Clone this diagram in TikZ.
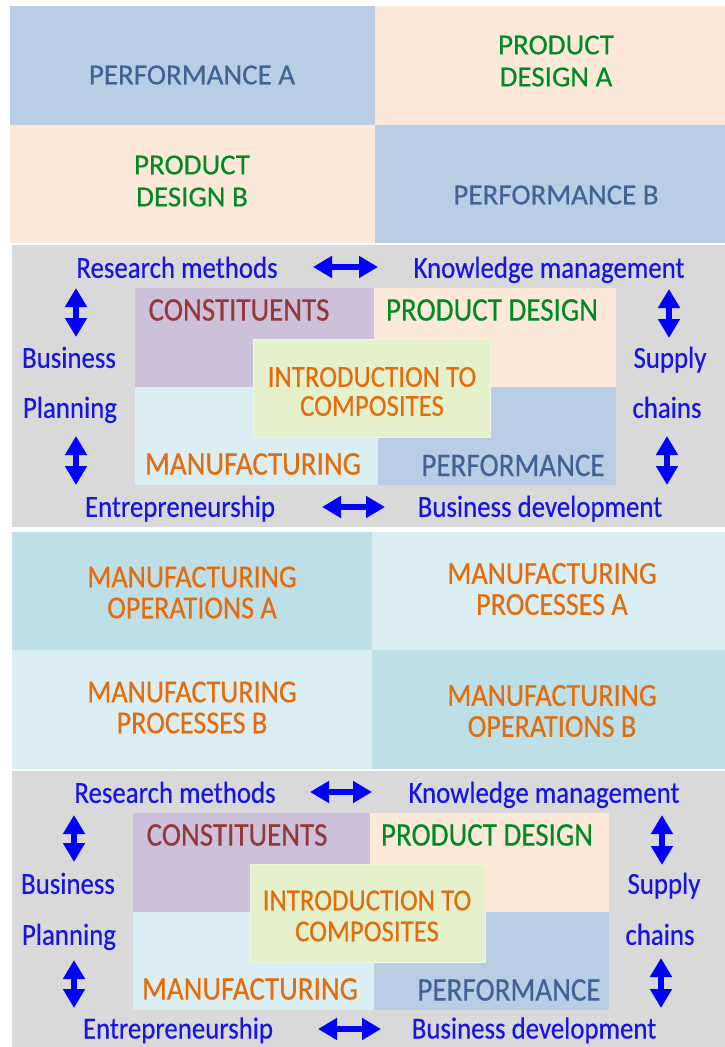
\documentclass[tikz,border=0pt]{standalone}
\usepackage{fontspec}
\setmainfont[FakeBold=0.4]{Carlito}
\newfontfamily\condfont[FakeStretch=0.88,FakeBold=0.4]{Carlito}
\usetikzlibrary{arrows.meta}

% palette
\definecolor{cellblue}{HTML}{B9CDE5}
\definecolor{cellpeach}{HTML}{FDE9D9}
\definecolor{cellpurple}{HTML}{CCC0DA}
\definecolor{celllcyan}{HTML}{DBEEF4}
\definecolor{celldcyan}{HTML}{BDDFE8}
\definecolor{panelgray}{HTML}{D9D9D9}
\definecolor{introfill}{HTML}{E4F1CC}
\definecolor{introedge}{HTML}{EEF6DD}
\definecolor{txorange}{HTML}{E46C0A}
\definecolor{txgreen}{HTML}{008A23}
\definecolor{txred}{HTML}{953735}
\definecolor{txslate}{HTML}{416394}
\definecolor{txblue}{HTML}{1515E6}
\definecolor{arrowblue}{HTML}{0000FF}

\tikzset{
  bigcap/.style={font=\fontsize{29}{32}\selectfont, inner sep=0pt, align=center},
  midcap/.style={font=\condfont\fontsize{32}{31}\selectfont, inner sep=0pt, align=center, text=txorange},
  quadcap/.style={font=\condfont\fontsize{33}{33}\selectfont, inner sep=0pt, anchor=base},
  introtext/.style={font=\condfont\fontsize{30.5}{30}\selectfont, inner sep=0pt, align=center, text=txorange},
  linklabel/.style={font=\condfont\fontsize{30.5}{30}\selectfont, inner sep=0pt, anchor=base, text=txblue},
  dblarrow/.style={draw=arrowblue, line width=6.5pt,
    {Triangle[length=19pt,width=21pt]}-{Triangle[length=19pt,width=21pt]}},
  introbox/.style={fill=introfill, draw=introedge, line width=1pt}
}

\begin{document}
\begin{tikzpicture}[x=1pt,y=-1pt]
\useasboundingbox (0,0) rectangle (725,1047);
\fill[white] (0,0) rectangle (725,1047);

% ---------- block 1: performance / product design ----------
\fill[cellblue]  (10,6)   rectangle (375,125);
\fill[cellpeach] (375,6)  rectangle (725,125);
\fill[cellpeach] (10,125) rectangle (375,243);
\fill[cellblue]  (375,125) rectangle (725,243);
\node[bigcap, text=txslate, anchor=base] (perfA) at (192,84.3) {PERFORMANCE A};
\node[bigcap, text=txgreen] (pdA) at (556,61) {PRODUCT\\DESIGN A};
\node[bigcap, text=txgreen] (pdB) at (192,181) {PRODUCT\\DESIGN B};
\node[bigcap, text=txslate, anchor=base] (perfB) at (556,204.3) {PERFORMANCE B};

% ---------- block 2: introduction to composites ----------
\fill[panelgray] (12,245) rectangle (725,527);
\fill[cellpurple] (135,288)   rectangle (373.5,387);
\fill[cellpeach]  (373.5,288) rectangle (616,387);
\fill[celllcyan]  (135,387)   rectangle (378,485);
\fill[cellblue]   (378,387)   rectangle (616,485);
\node[introbox, minimum width=237pt, minimum height=98pt, inner sep=0pt] (introbox1) at (371.5,388) {};
\node[introtext] (intro1) at (372,391.5) {INTRODUCTION TO\\[-1pt]COMPOSITES};
\node[quadcap, text=txred]   (con1)  at (239,320.6) {CONSTITUENTS};
\node[quadcap, text=txgreen] (pd1)   at (492,320.6) {PRODUCT DESIGN};
\node[quadcap, text=txorange](man1)  at (253,474.6) {MANUFACTURING};
\node[quadcap, text=txslate] (perf1) at (513,476)   {PERFORMANCE};

\node[linklabel] (rm1)   at (177,277.8) {Research methods};
\node[linklabel] (km1)   at (549,277.8) {Knowledge management};
\node[linklabel] (bus1)  at (69,367.8)  {Business};
\node[linklabel] (plan1) at (70,417.8)  {Planning};
\node[linklabel] (sup1)  at (670,367.8) {Supply};
\node[linklabel] (ch1)   at (667,417.8) {chains};
\node[linklabel] (ent1)  at (180,516.8) {Entrepreneurship};
\node[linklabel] (bd1)   at (540,516.8) {Business development};

\coordinate (h1a) at (313,267);  \coordinate (h1b) at (378,267);
\coordinate (h2a) at (322,507);  \coordinate (h2b) at (385,507);
\coordinate (l1a) at (76,288);   \coordinate (l1b) at (76,337);
\coordinate (l2a) at (76,436);   \coordinate (l2b) at (76,485);
\coordinate (r1a) at (669,289);  \coordinate (r1b) at (669,338);
\coordinate (r2a) at (667,436);  \coordinate (r2b) at (667,485);
\draw[dblarrow] (h1a) -- (h1b);
\draw[dblarrow] (h2a) -- (h2b);
\draw[dblarrow] (l1a) -- (l1b);
\draw[dblarrow] (l2a) -- (l2b);
\draw[dblarrow] (r1a) -- (r1b);
\draw[dblarrow] (r2a) -- (r2b);

% ---------- block 3: manufacturing ----------
\fill[celldcyan] (12,532)  rectangle (372,650);
\fill[celllcyan] (372,532) rectangle (725,650);
\fill[celllcyan] (12,650)  rectangle (372,769);
\fill[celldcyan] (372,650) rectangle (725,769);
\node[midcap] (moA) at (192,592.5) {MANUFACTURING\\OPERATIONS A};
\node[midcap] (mpA) at (552,589)   {MANUFACTURING\\PROCESSES A};
\node[midcap] (mpB) at (192,707.5) {MANUFACTURING\\PROCESSES B};
\node[midcap] (moB) at (552,711)   {MANUFACTURING\\OPERATIONS B};

% ---------- block 4: introduction to composites (repeat) ----------
\fill[panelgray] (12,771) rectangle (725,1047);
\fill[cellpurple] (133,813)   rectangle (370,912);
\fill[cellpeach]  (370,813)   rectangle (609,912);
\fill[celllcyan]  (133,912)   rectangle (373.5,1010);
\fill[cellblue]   (373.5,912) rectangle (609,1010);
\node[introbox, minimum width=235pt, minimum height=98pt, inner sep=0pt] (introbox2) at (367.5,913) {};
\node[introtext] (intro2) at (367,916) {INTRODUCTION TO\\[1pt]COMPOSITES};
\node[quadcap, text=txred]   (con2)  at (237,845.6)  {CONSTITUENTS};
\node[quadcap, text=txgreen] (pd2)   at (487,845.6)  {PRODUCT DESIGN};
\node[quadcap, text=txorange](man2)  at (250,999.6)  {MANUFACTURING};
\node[quadcap, text=txslate] (perf2) at (509,1000.6) {PERFORMANCE};

\node[linklabel] (rm2)   at (175,802.8)  {Research methods};
\node[linklabel] (km2)   at (544,802.8)  {Knowledge management};
\node[linklabel] (bus2)  at (68,893.8)   {Business};
\node[linklabel] (plan2) at (69,944.8)   {Planning};
\node[linklabel] (sup2)  at (664,893.8)  {Supply};
\node[linklabel] (ch2)   at (660,944.8)  {chains};
\node[linklabel] (ent2)  at (178,1038.5) {Entrepreneurship};
\node[linklabel] (bd2)   at (534,1038.5) {Business development};

\coordinate (h3a) at (310,792);  \coordinate (h3b) at (372,792);
\coordinate (h4a) at (318,1029); \coordinate (h4b) at (381,1029);
\coordinate (l3a) at (74,815);   \coordinate (l3b) at (74,862);
\coordinate (l4a) at (74,960);   \coordinate (l4b) at (74,1008);
\coordinate (r3a) at (662,815);  \coordinate (r3b) at (662,865);
\coordinate (r4a) at (661,958);  \coordinate (r4b) at (661,1008);
\draw[dblarrow] (h3a) -- (h3b);
\draw[dblarrow] (h4a) -- (h4b);
\draw[dblarrow] (l3a) -- (l3b);
\draw[dblarrow] (l4a) -- (l4b);
\draw[dblarrow] (r3a) -- (r3b);
\draw[dblarrow] (r4a) -- (r4b);
\end{tikzpicture}
\end{document}
